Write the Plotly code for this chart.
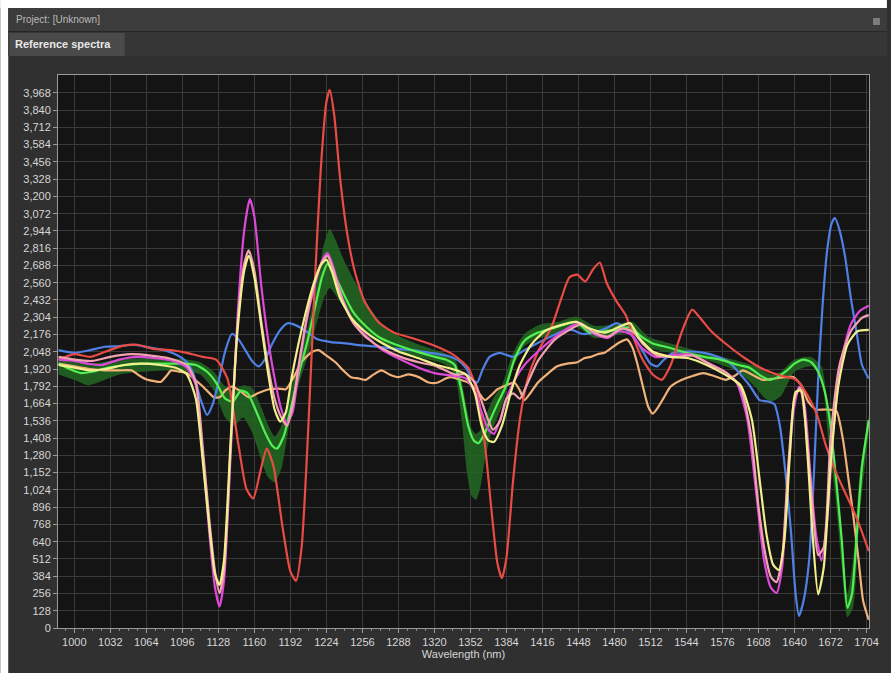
import plotly.graph_objects as go

# ---- reference spectra (wavelength in nm, signal in counts) ----
red_nm = [986, 1000, 1014, 1028, 1042, 1056, 1070, 1086, 1100, 1114, 1126, 1136, 1146, 1153, 1159, 1165, 1171, 1177,
          1185, 1192, 1197, 1202, 1208, 1214, 1219, 1224, 1227, 1231, 1236, 1242, 1249, 1258, 1270, 1284, 1300, 1318,
          1336, 1350, 1358, 1365, 1371, 1376, 1380, 1384, 1390, 1396, 1403, 1412, 1424, 1433, 1440, 1447, 1454, 1461,
          1467, 1473, 1482, 1490, 1497, 1505, 1514, 1522, 1530, 1540, 1549, 1556, 1566, 1580, 1596, 1612, 1628, 1642,
          1652, 1660, 1668, 1677, 1688, 1696, 1706]
red_val = [1990, 2030, 2010, 2050, 2090, 2100, 2070, 2060, 2040, 2010, 1990, 1850, 1350, 1030, 960, 1150, 1330, 1200,
           750, 420, 350, 600, 1500, 2600, 3400, 3900, 3990, 3800, 3350, 2950, 2650, 2420, 2270, 2190, 2150, 2100,
           2030, 1930, 1750, 1350, 850, 480, 370, 520, 1100, 1550, 1850, 2050, 2230, 2450, 2600, 2620, 2570, 2660,
           2710, 2560, 2420, 2320, 2150, 1990, 1880, 1840, 1950, 2200, 2360, 2300, 2200, 2100, 2000, 1920, 1870, 1840,
           1720, 1580, 1350, 1150, 950, 800, 570]

magenta_nm = [986, 1000, 1012, 1024, 1040, 1056, 1072, 1088, 1100, 1108, 1114, 1120, 1125, 1129, 1133, 1139, 1145,
              1151, 1156, 1160, 1166, 1172, 1178, 1184, 1189, 1194, 1200, 1207, 1214, 1220, 1225, 1230, 1238, 1248,
              1260, 1274, 1290, 1306, 1320, 1336, 1348, 1356, 1362, 1368, 1373, 1379, 1385, 1392, 1400, 1412, 1426,
              1440, 1450, 1462, 1474, 1484, 1494, 1504, 1516, 1530, 1546, 1562, 1576, 1588, 1598, 1606, 1613, 1619,
              1624, 1629, 1634, 1639, 1644, 1649, 1654, 1659, 1664, 1669, 1675, 1682, 1690, 1698, 1706]
magenta_val = [1990, 1980, 1960, 1950, 1990, 2010, 2000, 1980, 1930, 1800, 1300, 700, 300, 160, 350, 1300, 2300,
               2950, 3180, 3050, 2550, 2150, 1850, 1620, 1520, 1600, 1950, 2300, 2550, 2720, 2780, 2680, 2450, 2270,
               2160, 2060, 1990, 1930, 1890, 1870, 1850, 1750, 1600, 1470, 1440, 1560, 1720, 1850, 1950, 2050, 2150,
               2230, 2260, 2180, 2150, 2200, 2180, 2080, 2010, 2020, 2030, 1970, 1910, 1830, 1550, 1000, 500, 300,
               260, 450, 1100, 1600, 1790, 1650, 1150, 700, 500, 800, 1500, 2000, 2250, 2350, 2390]

pink_nm = [986, 1000, 1016, 1032, 1050, 1068, 1084, 1100, 1108, 1114, 1120, 1125, 1129, 1133, 1139, 1145, 1151, 1155,
           1160, 1166, 1172, 1178, 1184, 1189, 1194, 1200, 1207, 1214, 1220, 1225, 1230, 1238, 1248, 1260, 1274, 1290,
           1306, 1322, 1338, 1348, 1356, 1362, 1367, 1372, 1378, 1384, 1390, 1396, 1402, 1412, 1426, 1440, 1450, 1462,
           1474, 1486, 1496, 1506, 1518, 1534, 1550, 1566, 1580, 1592, 1601, 1608, 1614, 1619, 1624, 1629, 1634, 1640,
           1645, 1650, 1656, 1661, 1666, 1672, 1680, 1690, 1700, 1706]
pink_val = [2010, 1990, 1980, 2010, 2030, 2020, 2000, 1950, 1820, 1350, 800, 420, 260, 420, 1350, 2250, 2700, 2800,
            2650, 2280, 1950, 1700, 1560, 1500, 1650, 1980, 2320, 2570, 2710, 2760, 2660, 2440, 2260, 2150, 2070, 2010,
            1970, 1940, 1880, 1880, 1820, 1680, 1560, 1470, 1530, 1700, 1740, 1700, 1800, 1980, 2130, 2210, 2250, 2190,
            2160, 2220, 2200, 2100, 2020, 2010, 2020, 1950, 1890, 1780, 1450, 900, 550, 380, 340, 520, 1150, 1700,
            1780, 1500, 900, 540, 600, 1400, 1950, 2200, 2300, 2320]

yellow_nm = [986, 1000, 1014, 1028, 1044, 1060, 1076, 1090, 1100, 1108, 1114, 1120, 1125, 1129, 1133, 1139, 1145,
             1151, 1155, 1160, 1166, 1172, 1178, 1183, 1188, 1193, 1199, 1206, 1213, 1219, 1224, 1229, 1236, 1246,
             1258, 1272, 1288, 1306, 1322, 1336, 1348, 1356, 1362, 1368, 1373, 1380, 1388, 1396, 1406, 1418, 1430,
             1446, 1458, 1472, 1486, 1494, 1502, 1514, 1530, 1546, 1562, 1578, 1592, 1602, 1609, 1615, 1621, 1626,
             1631, 1636, 1641, 1646, 1651, 1656, 1661, 1666, 1672, 1679, 1687, 1696, 1706]
yellow_val = [1950, 1930, 1910, 1920, 1950, 1960, 1950, 1930, 1880, 1700, 1250, 750, 400, 320, 500, 1400, 2200, 2650,
              2760, 2600, 2250, 1900, 1620, 1530, 1600, 1850, 2100, 2350, 2560, 2690, 2730, 2640, 2450, 2300, 2200,
              2120, 2050, 2000, 1950, 1920, 1880, 1740, 1500, 1390, 1380, 1500, 1750, 1950, 2100, 2200, 2240, 2270,
              2220, 2190, 2240, 2260, 2150, 2050, 2010, 2000, 1950, 1880, 1800, 1550, 1100, 700, 470, 430, 650, 1300,
              1750, 1760, 1350, 700, 250, 450, 1200, 1800, 2100, 2200, 2210]

green_nm = [986, 996, 1006, 1016, 1030, 1046, 1062, 1078, 1094, 1108, 1118, 1126, 1134, 1141, 1148, 1154, 1162, 1170,
            1176, 1180, 1186, 1193, 1200, 1207, 1214, 1220, 1225, 1230, 1238, 1248, 1260, 1272, 1286, 1300, 1316, 1330,
            1338, 1344, 1350, 1355, 1359, 1364, 1370, 1377, 1384, 1391, 1400, 1412, 1424, 1436, 1446, 1458, 1470, 1482,
            1494, 1504, 1514, 1528, 1544, 1560, 1574, 1590, 1600, 1610, 1618, 1625, 1632, 1640, 1648, 1655, 1661, 1667,
            1672, 1677, 1682, 1687, 1691, 1695, 1700, 1706]
green_val = [1960, 1920, 1890, 1900, 1930, 1950, 1960, 1960, 1960, 1950, 1900, 1820, 1700, 1680, 1760, 1740, 1600, 1440,
             1350, 1330, 1420, 1650, 1900, 2120, 2380, 2600, 2700, 2640, 2500, 2340, 2230, 2150, 2100, 2060, 2020, 1990,
             1950, 1760, 1500, 1390, 1370, 1430, 1550, 1680, 1800, 1990, 2130, 2190, 2220, 2250, 2270, 2190, 2200, 2210,
             2230, 2160, 2110, 2080, 2040, 2010, 1990, 1950, 1930, 1870, 1840, 1860, 1900, 1960, 1990, 1970, 1900, 1750,
             1500, 1100, 650, 150, 250, 650, 1200, 1540]

# spread of the green reference (shaded envelope)
band_nm = [986, 1000, 1012, 1024, 1040, 1060, 1080, 1100, 1112, 1124, 1134, 1142, 1150, 1158, 1166, 1172, 1178, 1184,
           1192, 1200, 1208, 1216, 1222, 1227, 1232, 1240, 1250, 1262, 1276, 1292, 1310, 1328, 1338, 1344, 1349, 1353,
           1357, 1361, 1366, 1372, 1380, 1390, 1400, 1414, 1430, 1446, 1462, 1480, 1496, 1510, 1530, 1560, 1590, 1606,
           1614, 1620, 1628, 1640, 1655, 1664, 1670, 1676, 1682, 1687, 1692, 1698, 1706]
band_hi = [2000, 1990, 1960, 1970, 1990, 2000, 2000, 1990, 1970, 1900, 1790, 1760, 1800, 1780, 1640, 1510, 1420, 1500,
           1760, 1990, 2250, 2580, 2850, 2960, 2880, 2720, 2560, 2380, 2230, 2150, 2090, 2040, 2000, 1840, 1620, 1480,
           1440, 1470, 1580, 1700, 1800, 2040, 2180, 2250, 2270, 2310, 2240, 2250, 2270, 2160, 2110, 2040, 1980, 1940,
           1900, 1880, 1900, 1990, 2010, 1940, 1620, 1250, 700, 250, 500, 1150, 1580]
band_lo = [1880, 1840, 1800, 1830, 1880, 1900, 1910, 1900, 1880, 1760, 1560, 1500, 1560, 1450, 1250, 1120, 1080, 1180,
           1550, 1820, 2030, 2280, 2450, 2520, 2470, 2370, 2260, 2160, 2090, 2040, 2000, 1960, 1880, 1560, 1150, 980,
           950, 1050, 1300, 1480, 1640, 1930, 2090, 2150, 2180, 2230, 2150, 2170, 2190, 2080, 2040, 1990, 1900, 1780,
           1700, 1680, 1720, 1900, 1940, 1840, 1400, 1000, 450, 80, 150, 850, 1450]

blue_nm = [986, 1000, 1014, 1027, 1040, 1053, 1066, 1080, 1092, 1100, 1106, 1112, 1118, 1123, 1128, 1134, 1140, 1146,
           1152, 1158, 1164, 1170, 1176, 1183, 1190, 1198, 1206, 1216, 1228, 1241, 1256, 1270, 1286, 1300, 1316, 1330,
           1340, 1348, 1354, 1358, 1363, 1369, 1378, 1390, 1400, 1411, 1423, 1434, 1442, 1452, 1462, 1472, 1482, 1490,
           1497, 1506, 1512, 1518, 1524, 1532, 1546, 1560, 1572, 1582, 1592, 1600, 1609, 1616, 1622, 1627, 1632, 1637,
           1641, 1644, 1648, 1653, 1657, 1661, 1665, 1669, 1673, 1676, 1680, 1685, 1690, 1695, 1700, 1706]
blue_val = [2060, 2040, 2060, 2085, 2090, 2100, 2080, 2060, 2020, 1970, 1880, 1700, 1580, 1660, 1820, 2050, 2180, 2140,
            2060, 1980, 1940, 2000, 2110, 2210, 2260, 2240, 2200, 2140, 2120, 2110, 2095, 2085, 2070, 2060, 2040, 2020,
            1990, 1930, 1840, 1820, 1920, 2010, 2040, 2010, 2060, 2110, 2160, 2200, 2210, 2180, 2190, 2220, 2260, 2220,
            2160, 2040, 1960, 1940, 1990, 2040, 2050, 2040, 2010, 1970, 1880, 1800, 1690, 1680, 1660, 1500, 1150, 700,
            250, 90, 200, 500, 1100, 1840, 2400, 2800, 3000, 3040, 2950, 2750, 2450, 2200, 1950, 1850]

peach_nm = [986, 1000, 1014, 1027, 1040, 1051, 1058, 1065, 1071, 1077, 1082, 1086, 1093, 1100, 1106, 1113, 1119, 1124,
            1129, 1134, 1140, 1147, 1155, 1163, 1173, 1181, 1188, 1195, 1201, 1206, 1212, 1217, 1224, 1232, 1239, 1246,
            1253, 1259, 1266, 1273, 1280, 1288, 1297, 1306, 1315, 1323, 1330, 1335, 1343, 1350, 1358, 1365, 1371, 1376,
            1384, 1391, 1396, 1400, 1406, 1412, 1420, 1429, 1438, 1447, 1453, 1459, 1465, 1471, 1478, 1485, 1491, 1496,
            1500, 1505, 1510, 1514, 1519, 1524, 1530, 1540, 1550, 1559, 1568, 1579, 1587, 1594, 1602, 1612, 1622, 1632,
            1639, 1646, 1652, 1659, 1668, 1677, 1683, 1688, 1692, 1697, 1701, 1706]
peach_val = [1960, 1940, 1920, 1910, 1910, 1910, 1870, 1840, 1830, 1825, 1870, 1910, 1900, 1890, 1850, 1800, 1750, 1710,
             1710, 1760, 1790, 1760, 1710, 1740, 1770, 1775, 1770, 1860, 1960, 2010, 2050, 2060, 2020, 1970, 1910, 1860,
             1850, 1840, 1880, 1910, 1880, 1860, 1880, 1860, 1820, 1820, 1850, 1860, 1840, 1820, 1760, 1690, 1730, 1770,
             1800, 1820, 1760, 1690, 1750, 1820, 1880, 1940, 1960, 1970, 2000, 2010, 2030, 2040, 2080, 2120, 2140, 2080,
             1970, 1800, 1640, 1590, 1640, 1710, 1790, 1840, 1870, 1890, 1870, 1840, 1870, 1910, 1880, 1840, 1850, 1860,
             1860, 1800, 1680, 1620, 1620, 1610, 1400, 1100, 850, 500, 200, 60]

# y-axis labels run in steps of 128 counts up to 3,968
y_ticks = list(range(0, 3969, 128))

# ---- window geometry (pixels) ----
W, H = 891, 673
L, R, T, B = 58, 18, 75, 45
PW, PH = W - L - R, H - T - B


def px(x):
    return (x - L) / PW


def py(y):
    return (H - B - y) / PH


def box(x0, y0, x1, y1, color):
    return dict(type="rect", xref="paper", yref="paper", x0=px(x0), x1=px(x1), y0=py(y1), y1=py(y0),
                fillcolor=color, line=dict(width=0), layer="above")


fig = go.Figure()

# shaded envelope for the green reference
fig.add_trace(go.Scatter(x=band_nm, y=band_lo, mode="lines", line=dict(width=0, shape="spline", smoothing=0.6),
                         hoverinfo="skip", showlegend=False))
fig.add_trace(go.Scatter(x=band_nm, y=band_hi, mode="lines", line=dict(width=0, shape="spline", smoothing=0.6),
                         fill="tonexty", fillcolor="rgba(34,105,34,0.85)", hoverinfo="skip", showlegend=False))

series = [
    (peach_nm, peach_val, "#f1b27a"),
    (blue_nm, blue_val, "#4f80e6"),
    (green_nm, green_val, "#52ee52"),
    (red_nm, red_val, "#e94b45"),
    (magenta_nm, magenta_val, "#dd4ad9"),
    (pink_nm, pink_val, "#f2a2b0"),
    (yellow_nm, yellow_val, "#f2ef8e"),
]
for xs, ys, col in series:
    fig.add_trace(go.Scatter(x=xs, y=ys, mode="lines",
                             line=dict(color=col, width=2.2, shape="spline", smoothing=0.6),
                             showlegend=False))

tick_font = dict(family="Liberation Sans, Arial, sans-serif", size=11, color="#d6d6d6")

fig.update_xaxes(range=[985.5, 1706.2], tick0=1000, dtick=32, ticks="outside", ticklen=4, tickcolor="#9a9a9a",
                 showline=True, linecolor="#9a9a9a", linewidth=1, mirror=True,
                 showgrid=True, gridcolor="#3a3a3a", gridwidth=1, zeroline=False, tickfont=tick_font,
                 minor=dict(dtick=8, tick0=1000, ticks="outside", ticklen=2, tickcolor="#8a8a8a", showgrid=False),
                 title=dict(text="Wavelength (nm)", font=dict(family="Liberation Sans, Arial, sans-serif", size=11,
                                                             color="#d6d6d6"), standoff=2))
fig.update_yaxes(range=[0, 4100], tickmode="array", tickvals=y_ticks, tickformat=",d", ticks="outside", ticklen=4,
                 tickcolor="#9a9a9a", showline=True, linecolor="#9a9a9a", linewidth=1, mirror=True,
                 showgrid=True, gridcolor="#3a3a3a", gridwidth=1, zeroline=False, tickfont=tick_font)

shapes = [
    box(0, 0, W, 8, "#ffffff"),
    box(0, 0, 8, H, "#ffffff"),
    box(8, 8, W, 31, "#3c3c3c"),
    box(8, 31, W, 32, "#262626"),
    box(8, 32, W, 56, "#363636"),
    box(9, 33, 125, 56, "#4a4a4a"),
    box(877, 18, 884, 25, "#7c7c7c"),
]

annotations = [
    dict(text="Project: [Unknown]", xref="paper", yref="paper", x=px(14), y=py(20), xanchor="left",
         yanchor="middle", showarrow=False,
         font=dict(family="Liberation Sans, Arial, sans-serif", size=10, color="#b9b9b9")),
    dict(text="<b>Reference spectra</b>", xref="paper", yref="paper", x=px(13), y=py(44), xanchor="left",
         yanchor="middle", showarrow=False,
         font=dict(family="Liberation Sans, Arial, sans-serif", size=11, color="#e8e8e8")),
]

fig.update_layout(width=W, height=H, margin=dict(l=L, r=R, t=T, b=B),
                  paper_bgcolor="#303030", plot_bgcolor="#141414",
                  shapes=shapes, annotations=annotations, showlegend=False)

fig.write_html("out.html")
